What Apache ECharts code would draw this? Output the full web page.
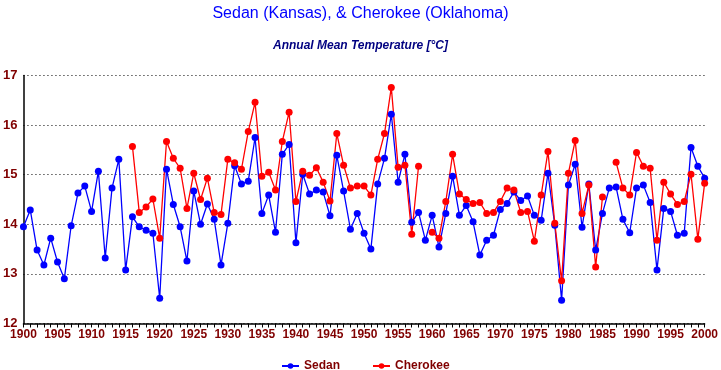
<!DOCTYPE html>
<html>
<head>
<meta charset="utf-8">
<script src="https://cdn.jsdelivr.net/npm/echarts@6/dist/echarts.min.js"></script>
<style>
html,body{margin:0;padding:0;background:#fff;}
#chart{width:721px;height:370px;}
</style>
</head>
<body>
<div id="chart"></div>
<script>
const firstYear = 1900;
const lastYear = 2000;
const years = [];
for (let y = firstYear; y <= lastYear; y++) years.push(String(y));

const sedan = [
  13.95, 14.29, 13.48, 13.18, 13.72, 13.24, 12.90, 13.97, 14.63, 14.77,
  14.26, 15.07, 13.32, 14.73, 15.31, 13.08, 14.15, 13.95, 13.88, 13.82,
  12.51, 15.11, 14.40, 13.95, 13.26, 14.67, 14.00, 14.41, 14.10, 13.18,
  14.02, 15.18, 14.81, 14.87, 15.75, 14.22, 14.59, 13.84, 15.41, 15.61,
  13.63, 15.01, 14.61, 14.69, 14.65, 14.17, 15.39, 14.67, 13.90, 14.22,
  13.82, 13.50, 14.81, 15.33, 16.22, 14.85, 15.41, 14.04, 14.24, 13.68,
  14.18, 13.54, 14.22, 14.97, 14.18, 14.38, 14.05, 13.38, 13.68, 13.78,
  14.30, 14.42, 14.65, 14.48, 14.57, 14.18, 14.08, 15.03, 13.98, 12.47,
  14.79, 15.21, 13.94, 14.81, 13.48, 14.22, 14.73, 14.75, 14.10, 13.83,
  14.73, 14.79, 14.44, 13.08, 14.32, 14.26, 13.78, 13.82, 15.55, 15.17,
  14.93
];

const cherokeeStartYear = 1916;
const cherokee = [
  15.57, 14.24, 14.35, 14.51,
  13.72, 15.67, 15.33, 15.13, 14.32, 15.03, 14.50, 14.93, 14.24, 14.20,
  15.31, 15.24, 15.11, 15.87, 16.46, 14.97, 15.05, 14.69, 15.67, 16.26,
  14.46, 15.07, 14.99, 15.14, 14.85, 14.47, 15.83, 15.19, 14.73, 14.77,
  14.77, 14.59, 15.31, 15.83, 16.76, 15.15, 15.19, 13.80, 15.17, null,
  13.84, 13.72, 14.46, 15.41, 14.61, 14.50, 14.42, 14.44, 14.22, 14.24,
  14.46, 14.73, 14.69, 14.24, 14.26, 13.66, 14.59, 15.47, 14.02, 12.86,
  15.03, 15.69, 14.22, 14.79, 13.14, 14.55, null, 15.25, 14.73, 14.59,
  15.45, 15.17, 15.13, 13.68, 14.85, 14.61, 14.40, 14.46, 15.01, 13.70,
  14.83
];

const cherokeeFull = years.map((y) => {
  const i = Number(y) - cherokeeStartYear;
  return i >= 0 && i < cherokee.length ? cherokee[i] : null;
});

const chart = echarts.init(document.getElementById('chart'), null, {renderer: 'canvas'});
const labelColor = '#800000';
const font = 'Liberation Sans, Arial, sans-serif';

chart.setOption({
  backgroundColor: '#ffffff',
  animation: false,
  title: [
    {
      text: 'Sedan (Kansas), & Cherokee (Oklahoma)',
      left: 'center',
      top: 1,
      textStyle: {color: '#0000ff', fontSize: 16, fontWeight: 'normal', fontFamily: font}
    },
    {
      text: 'Annual Mean Temperature [°C]',
      left: 'center',
      top: 35,
      textStyle: {color: '#000080', fontSize: 12, fontWeight: 'bold', fontStyle: 'italic', fontFamily: font}
    }
  ],
  legend: {
    left: 276,
    top: 355,
    itemWidth: 17,
    itemHeight: 7,
    itemGap: 32,
    textStyle: {color: labelColor, fontSize: 12, fontWeight: 'bold', fontFamily: font},
    data: ['Sedan', 'Cherokee']
  },
  grid: {left: 23, right: 15, top: 75.5, bottom: 46.5, containLabel: false},
  xAxis: {
    type: 'category',
    data: years,
    boundaryGap: false,
    axisLine: {lineStyle: {color: '#000', width: 1.5}},
    axisTick: {show: true, interval: 0, length: 4, lineStyle: {color: '#000'}},
    axisLabel: {interval: 4, color: labelColor, fontSize: 12, fontWeight: 'bold', fontFamily: font, margin: 5},
    splitLine: {show: false}
  },
  yAxis: {
    type: 'value',
    min: 12,
    max: 17,
    interval: 1,
    axisLine: {show: true, lineStyle: {color: '#000', width: 1.5}},
    axisTick: {show: false},
    axisLabel: {color: labelColor, fontSize: 13, fontWeight: 'bold', fontFamily: font, margin: 6},
    splitLine: {show: true, lineStyle: {color: '#000', type: [1, 3], width: 1}}
  },
  series: [
    {
      name: 'Sedan',
      type: 'line',
      data: sedan,
      symbol: 'circle',
      symbolSize: 7,
      showAllSymbol: true,
      connectNulls: false,
      itemStyle: {color: '#0000ff'},
      lineStyle: {color: '#0000ff', width: 1.3}
    },
    {
      name: 'Cherokee',
      type: 'line',
      data: cherokeeFull,
      symbol: 'circle',
      symbolSize: 7,
      showAllSymbol: true,
      connectNulls: false,
      itemStyle: {color: '#ff0000'},
      lineStyle: {color: '#ff0000', width: 1.3}
    }
  ]
});
</script>
</body>
</html>
